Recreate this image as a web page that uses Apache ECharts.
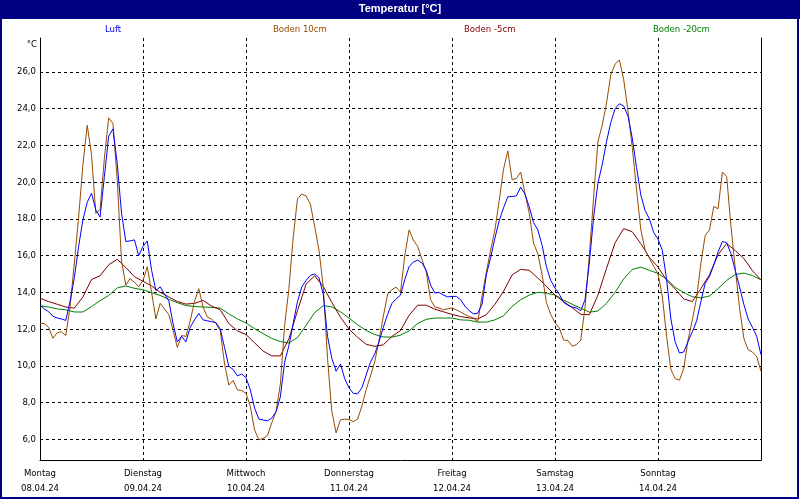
<!DOCTYPE html>
<html>
<head>
<meta charset="utf-8">
<script src="https://cdn.jsdelivr.net/npm/echarts@6/dist/echarts.min.js"></script>
<style>html,body{margin:0;padding:0;background:#fff}#c{width:800px;height:500px}</style>
</head>
<body>
<div id="c"></div>
<script>
// ---- data (start 08.04.24 00:00, hours) ----
const dayNames = ['Montag','Dienstag','Mittwoch','Donnerstag','Freitag','Samstag','Sonntag'];
const dayDates = ['08.04.24','09.04.24','10.04.24','11.04.24','12.04.24','13.04.24','14.04.24'];
const yTickValues = [6,8,10,12,14,16,18,20,22,24,26];
const seriesNames = ['Luft','Boden 10cm','Boden -5cm','Boden -20cm'];

// hourly values
const luft = [13.3,13.1,12.95,12.7,12.6,12.55,12.47,13.5,14.8,16.5,17.95,18.9,19.4,18.5,18.1,20.3,22.5,22.9,21.0,18.3,16.77,16.8,16.86,16.0,16.5,16.8,15.2,14.1,14.3,13.9,13.55,12.3,11.3,11.6,11.3,12.1,12.5,12.85,12.5,12.45,12.4,12.35,
12.0,11.0,9.97,9.8,9.45,9.55,9.35,8.7,7.7,7.1,7.05,7.0,7.15,7.5,8.3,10.2,11.1,12.3,13.5,14.3,14.65,14.93,15.0,14.8,13.9,11.6,10.4,9.7,10.1,9.3,8.8,8.5,8.47,8.8,9.5,10.2,10.65,11.3,12.1,12.8,13.4,13.65,
13.85,14.7,15.4,15.65,15.75,15.6,15.2,14.4,13.96,14.0,13.85,13.75,13.78,13.78,13.6,13.25,13.0,12.83,12.86,13.35,14.95,15.9,16.95,17.9,18.6,19.2,19.22,19.25,19.73,19.35,18.65,17.8,17.4,16.55,15.4,14.65,14.23,13.9,13.45,13.3,13.2,13.15,
13.0,13.6,15.6,18.1,19.95,20.95,22.2,23.25,24.0,24.27,24.15,23.6,22.4,20.8,19.3,18.45,18.0,17.25,16.9,16.3,14.7,12.55,11.3,10.7,10.75,11.32,11.85,12.45,13.5,14.5,14.86,15.5,16.2,16.77,16.7,16.1,15.2,14.3,13.35,12.55,12.1,11.6,10.6];
const boden10 = [12.3,12.3,12.1,11.5,11.8,11.85,11.65,13.2,15.6,18.1,20.95,23.1,21.5,18.3,18.5,21.3,23.5,23.2,20.1,15.7,14.4,14.75,14.55,14.3,14.65,15.4,14.0,12.55,13.4,13.1,12.8,11.95,11.0,11.65,11.6,12.45,13.5,14.2,13.2,12.65,12.54,12.3,
11.9,10.1,8.95,9.2,8.69,8.65,8.5,7.8,6.5,5.97,6.05,6.2,6.9,7.5,9.0,12.2,14.2,17.0,19.1,19.35,19.25,18.8,17.6,16.3,14.3,10.4,7.5,6.35,7.05,7.1,7.07,6.96,7.1,7.8,8.7,9.45,10.22,11.4,12.7,13.9,14.15,14.28,
14.0,16.0,17.4,16.85,16.5,15.8,15.1,13.6,13.2,13.15,13.05,13.1,13.15,13.05,12.93,12.8,12.68,12.6,12.4,13.8,15.1,16.3,17.4,19.0,20.7,21.7,20.13,20.2,20.55,19.4,18.3,16.68,16.1,14.95,13.45,12.8,12.35,12.07,11.4,11.38,11.07,11.15,
11.4,13.2,16.0,19.2,22.2,23.1,24.3,25.85,26.43,26.65,25.6,23.9,21.9,19.6,17.4,16.3,15.85,15.42,15.0,13.8,11.6,9.8,9.3,9.22,9.85,11.4,12.5,13.7,15.6,17.1,17.4,18.68,18.55,20.55,20.31,17.6,15.3,13.15,11.5,10.87,10.75,10.5,9.7];
// values every 2 hours
const boden5 = [13.68,13.5,13.35,13.2,13.14,13.75,14.7,14.9,15.5,15.8,15.35,14.85,14.6,14.35,14.0,13.75,13.5,13.36,13.4,13.56,13.25,13.05,
12.3,11.9,11.7,11.25,10.8,10.54,10.54,11.47,13.0,14.45,14.9,14.32,13.45,12.65,12.0,11.55,11.17,11.06,11.14,11.6,11.92,
12.75,13.3,13.3,13.08,12.94,12.8,12.68,12.61,12.55,12.78,13.35,14.05,14.95,15.25,15.2,14.78,14.33,13.85,13.5,13.17,12.8,
12.78,13.85,15.3,16.7,17.47,17.3,16.65,15.9,15.38,14.66,14.18,13.64,13.5,14.2,14.96,16.05,16.66,16.27,15.85,15.18,14.68];
const boden20 = [13.27,13.2,13.1,13.05,12.93,12.93,13.22,13.55,13.83,14.24,14.35,14.22,14.14,13.98,13.83,13.62,13.44,13.28,13.23,13.2,13.18,13.14,
12.83,12.55,12.33,12.02,11.75,11.49,11.32,11.24,11.54,12.2,12.9,13.27,13.21,12.94,12.6,12.23,11.93,11.7,11.57,11.56,11.67,
11.9,12.3,12.53,12.6,12.6,12.6,12.5,12.48,12.38,12.38,12.5,12.72,13.23,13.6,13.85,14.0,13.96,13.85,13.58,13.35,13.14,
12.92,12.98,13.4,14.0,14.73,15.25,15.37,15.2,15.03,14.72,14.27,13.99,13.76,13.7,13.8,14.2,14.65,14.97,15.05,14.92,14.68];

// ---- styling ----
const colors = ['#0000ff','#964b00','#800000','#008000'];
const stepHours = [1,1,2,2];
const seriesValues = [luft, boden10, boden5, boden20];
const FONT = "'DejaVu Sans Condensed', 'Liberation Sans', Arial, sans-serif";
const TITLE_FONT = "'Liberation Sans', Arial, sans-serif";
const legendCenters = [113, 300, 490, 681];
const smallFont = 9.5;

const mctx = document.createElement('canvas').getContext('2d');
mctx.font = smallFont + 'px ' + FONT;

const chart = echarts.init(document.getElementById('c'), null, {renderer:'canvas'});
const yMin = 4.87, yMax = 27.85;

const option = {
  animation: false,
  backgroundColor: '#ffffff',
  title: {
    text: 'Temperatur [°C]', left: 'center', top: 3, padding: 0, z: 10,
    textStyle: {color:'#ffffff', fontWeight:'bold', fontSize:11, fontFamily: TITLE_FONT}
  },
  graphic: [
    {type:'rect', z: 0, shape:{x:0, y:0, width:800, height:19}, style:{fill:'#000080'}},
    {type:'rect', z: 0, shape:{x:1, y:1, width:797, height:497}, style:{fill:null, stroke:'#000080', lineWidth:2}},
    {type:'text', z: 5, style:{text:'°C', x:37, y:45, align:'right', verticalAlign:'middle', fill:'#000', font: smallFont + 'px ' + FONT}}
  ],
  legend: seriesNames.map((n, i) => ({
    data: [{name: n, textStyle: {color: colors[i]}}],
    left: Math.round(legendCenters[i] - mctx.measureText(n).width / 2 - 5),
    top: 25, padding: 0, itemWidth: 0, itemHeight: 0, itemGap: 0,
    icon: 'rect', selectedMode: false,
    itemStyle: {opacity: 0}, lineStyle: {opacity: 0},
    textStyle: {fontSize: smallFont, fontFamily: FONT, color: colors[i]}
  })),
  grid: {left: 40, right: 39, top: 38, bottom: 40},
  xAxis: {
    type: 'value', min: 0, max: 168, interval: 24,
    axisLine: {show: true, lineStyle: {color: '#000', width: 1}},
    axisTick: {show: false},
    axisLabel: {
      color: '#000', fontSize: smallFont, fontFamily: FONT, lineHeight: 15, margin: 6,
      formatter: v => { const i = Math.round(v / 24); return i < dayNames.length ? dayNames[i] + '\n' + dayDates[i] : ''; }
    },
    splitLine: {show: true, lineStyle: {color: '#000', width: 1, type: [3, 3]}}
  },
  yAxis: [{
    type: 'value', min: yMin, max: yMax,
    axisLine: {show: true, lineStyle: {color: '#000', width: 1}},
    axisTick: {show: false, customValues: yTickValues},
    axisLabel: {customValues: yTickValues, color: '#000', fontSize: smallFont, fontFamily: FONT, margin: 4,
      formatter: v => v.toFixed(1).replace('.', ',')},
    splitLine: {show: true, lineStyle: {color: '#000', width: 1, type: [3, 3]}}
  }, {
    type: 'value', position: 'right', min: yMin, max: yMax,
    axisLine: {show: true, lineStyle: {color: '#000', width: 1}},
    axisTick: {show: false}, axisLabel: {show: false}, splitLine: {show: false}
  }],
  series: seriesNames.map((n, i) => ({
    name: n, type: 'line', yAxisIndex: 0,
    data: seriesValues[i].map((v, k) => [k * stepHours[i], v]),
    showSymbol: false, symbol: 'none', smooth: false,
    lineStyle: {color: colors[i], width: 1}, itemStyle: {color: colors[i]},
    emphasis: {disabled: true}, z: 4 - i
  }))
};
chart.setOption(option);
</script>
</body>
</html>
